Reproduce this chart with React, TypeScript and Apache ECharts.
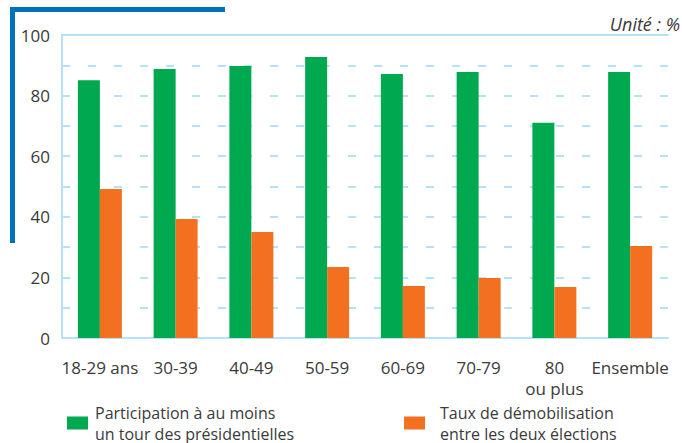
import React, { useEffect, useRef } from "react";
import * as echarts from "echarts";

const categories = ["18-29 ans", "30-39", "40-49", "50-59", "60-69", "70-79", "80\nou plus", "Ensemble"];
const participation = [85.1, 88.8, 89.8, 92.7, 87.1, 87.8, 71.0, 87.8];
const demobilisation = [49.2, 39.3, 35.0, 23.4, 17.2, 19.8, 16.8, 30.4];
const seriesNames = ["Participation à au moins\nun tour des présidentielles", "Taux de démobilisation\nentre les deux élections"];
const unitLabel = "Unité : %";

const FONT = "'Open Sans', 'DejaVu Sans', sans-serif";
const GREEN = "#00a94f";
const ORANGE = "#f37021";
const GRIDBLUE = "#b5e2f6";
const DARKBLUE = "#0072bc";
const TEXT = "#3a3a3a";

export default function App() {
  const ref = useRef<HTMLDivElement>(null);
  useEffect(() => {
    if (!ref.current) return;
    const chart = echarts.init(ref.current, null, { renderer: "svg" });
    chart.setOption({
      animation: false,
      grid: { left: 62, right: 14, top: 35, bottom: 105, containLabel: false },
      legend: [
        {
          data: [seriesNames[0]],
          left: 67,
          top: 402,
          padding: 0,
          itemWidth: 21,
          itemHeight: 13,
          icon: "rect",
          textStyle: { fontFamily: FONT, fontSize: 16, color: TEXT, lineHeight: 21, padding: [0, 0, 0, 2] },
        },
        {
          data: [seriesNames[1]],
          left: 404,
          top: 402,
          padding: 0,
          itemWidth: 21,
          itemHeight: 13,
          icon: "rect",
          textStyle: { fontFamily: FONT, fontSize: 16, color: TEXT, lineHeight: 21, padding: [0, 0, 0, 10] },
        },
      ],
      graphic: [
        { type: "rect", shape: { x: 10, y: 7, width: 215, height: 5 }, style: { fill: DARKBLUE } },
        { type: "rect", shape: { x: 10, y: 7, width: 5, height: 236 }, style: { fill: DARKBLUE } },
        {
          type: "text",
          x: 680,
          y: 24,
          style: {
            text: unitLabel,
            fontFamily: "'Open Sans', sans-serif",
            fontSize: 18,
            fontStyle: "italic",
            fill: TEXT,
            align: "right",
            verticalAlign: "middle",
          },
        },
      ],
      xAxis: [
        {
          type: "category",
          data: categories,
          axisLine: { show: true, lineStyle: { color: GRIDBLUE, width: 2 } },
          axisTick: { show: false },
          axisLabel: { fontFamily: FONT, fontSize: 17, color: TEXT, margin: 19, lineHeight: 21, interval: 0 },
        },
        {
          type: "category",
          data: categories,
          position: "top",
          axisLine: { show: true, lineStyle: { color: GRIDBLUE, width: 2 } },
          axisTick: { show: false },
          axisLabel: { show: false },
        },
      ],
      yAxis: {
        type: "value",
        min: 0,
        max: 100,
        interval: 10,
        axisLine: { show: true, lineStyle: { color: GRIDBLUE, width: 2 } },
        axisTick: { show: false },
        axisLabel: {
          fontFamily: FONT,
          fontSize: 17,
          color: TEXT,
          margin: 12,
          formatter: (v: number) => (v % 20 === 0 ? String(v) : ""),
        },
        splitLine: { show: true, lineStyle: { color: GRIDBLUE, width: 2, type: [8, 18] } },
      },
      series: [
        {
          name: seriesNames[0],
          type: "bar",
          data: participation,
          barWidth: 22,
          barGap: "0%",
          itemStyle: { color: GREEN },
        },
        {
          name: seriesNames[1],
          type: "bar",
          data: demobilisation,
          barWidth: 22,
          barGap: "0%",
          itemStyle: { color: ORANGE },
        },
      ],
    });
    return () => chart.dispose();
  }, []);
  return <div ref={ref} style={{ width: 682, height: 443, position: "absolute", left: 0, top: 0 }} />;
}
